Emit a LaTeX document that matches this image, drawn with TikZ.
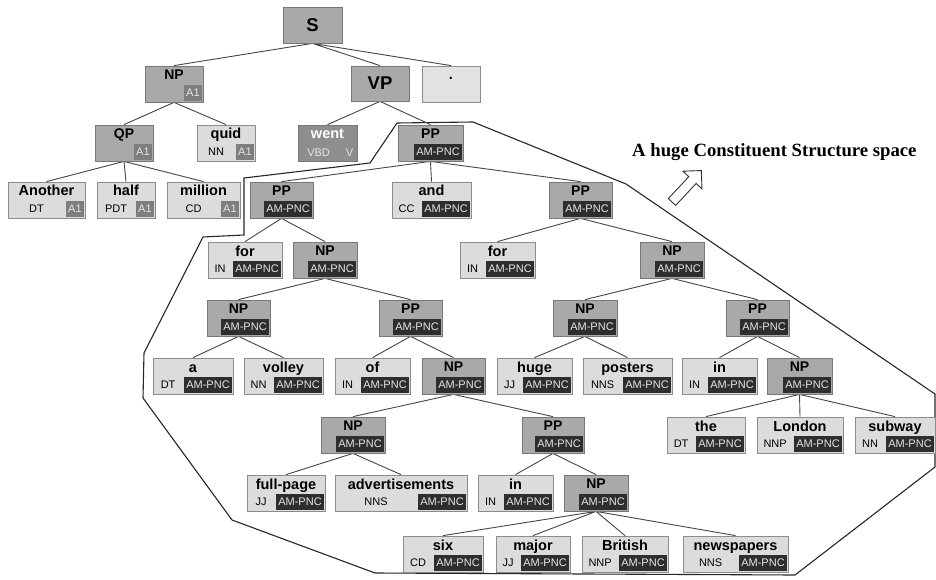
\documentclass[tikz,border=0pt]{standalone}
\usepackage{fontspec}
\setsansfont{Liberation Sans}
\newfontfamily\captionserif{Liberation Serif}
\usepackage{xcolor}
\usepackage{tikz}
\usetikzlibrary{calc,backgrounds}
\definecolor{leaffill}{HTML}{DCDCDC}
\definecolor{leafline}{HTML}{8C8C8C}
\definecolor{phrasefill}{HTML}{A9A9A9}
\definecolor{phraseline}{HTML}{787878}
\definecolor{tagdark}{HTML}{2E2E2E}
\definecolor{tagtext}{HTML}{E6E6E6}
\definecolor{argfill}{HTML}{7E7E7E}
\definecolor{wentfill}{HTML}{8E8E8E}
\definecolor{edgecol}{HTML}{454545}
\definecolor{dotfill}{HTML}{E2E2E2}
% word box: [tag style]{name}{left}{right}{top}{word}{pos}{role}
\newcommand{\leafnode}[8][roletag]{%
  \node[leafbox,minimum width={#4-#3}] (#2) at ({(#3+#4)/2},{#5+18}) {#6};
  \node[#1,anchor=south east] (#2-r) at ([shift={(-1,-1)}]#2.south east) {#8};
  \node[postag,anchor=base] (#2-p) at ($(#2.west |- #2-r.base)!.5!(#2-r.base west)$) {#7};}
% constituent box: [tag style]{name}{left}{right}{top}{label}{role}
\newcommand{\phrasenode}[7][roletag]{%
  \node[phrasebox,minimum width={#4-#3}] (#2) at ({(#3+#4)/2},{#5+18}) {#6};
  \node[#1,anchor=south east] (#2-r) at ([shift={(-1,-1)}]#2.south east) {#7};}

\begin{document}
\begin{tikzpicture}[x=1pt,y=-1pt,
    leafbox/.style={draw=leafline,fill=leaffill,line width=0.8pt,minimum height=36pt,
                    inner xsep=1pt,inner ysep=0pt,text height=14pt,text depth=22pt,
                    font=\sffamily\bfseries\fontsize{14.5}{14.5}\selectfont},
    phrasebox/.style={leafbox,draw=phraseline,fill=phrasefill,text height=13.5pt,text depth=22.5pt,
                    font=\sffamily\bfseries\fontsize{14}{14}\selectfont},
    topbox/.style={draw=phraseline,fill=phrasefill,line width=0.8pt,inner sep=0pt,
                   font=\sffamily\bfseries\fontsize{18.5}{18.5}\selectfont},
    roletag/.style={fill=tagdark,text=tagtext,inner xsep=2.5pt,inner ysep=0pt,minimum height=16pt,
                    font=\sffamily\fontsize{11}{11}\selectfont},
    argtag/.style={roletag,fill=argfill},
    postag/.style={inner sep=0pt,font=\sffamily\fontsize{11}{11}\selectfont},
    edge/.style={draw=edgecol,line width=0.9pt},
    hull/.style={draw=black!85,line width=1.1pt,line join=miter}
  ]
  \useasboundingbox (0,0) rectangle (936,580);

  % Sentence level
  \node[topbox,minimum width=59pt,minimum height=36pt] (s) at (312.5,25) {S};
  \phrasenode[argtag]{np0}{145}{203}{66}{NP}{A1}
  \node[topbox,minimum width=58pt,minimum height=35pt] (vp) at (380,83.5) {VP};
  \node[leafbox,fill=dotfill,minimum width=58pt] (dot) at (451,84) {.};

  % Subject NP
  \phrasenode[argtag]{qp}{95}{153}{125}{QP}{A1}
  \leafnode[argtag]{quid}{197}{255}{125}{quid}{NN}{A1}
  \leafnode[argtag]{another}{8}{85}{182}{Another}{DT}{A1}
  \leafnode[argtag]{half}{97}{155}{182}{half}{PDT}{A1}
  \leafnode[argtag]{million}{167}{240}{182}{million}{CD}{A1}

  % Verb and purpose PP
  \node[leafbox,draw=wentfill!85!black,fill=wentfill,text=white,minimum width=59pt] (went) at (327.5,143) {went};
  \node[postag,text=tagtext,anchor=base] (went-p) at ($(went.south west)+(21,-5)$) {VBD};
  \node[postag,text=tagtext,anchor=base east] (went-r) at ($(went.south east)+(-4,-5)$) {V};
  \phrasenode{pp1}{398}{463}{125}{PP}{AM-PNC}
  \phrasenode{pp2}{250}{313}{182}{PP}{AM-PNC}
  \leafnode{and}{392}{471}{182}{and}{CC}{AM-PNC}
  \phrasenode{pp3}{549}{612}{182}{PP}{AM-PNC}

  % for a volley of ... advertisements in six major British newspapers
  \leafnode{for1}{208}{282}{242}{for}{IN}{AM-PNC}
  \phrasenode{np1}{293}{357}{242}{NP}{AM-PNC}
  \phrasenode{np3}{207}{270}{300}{NP}{AM-PNC}
  \phrasenode{pp4}{379}{442}{300}{PP}{AM-PNC}
  \leafnode{a}{153}{233}{358}{a}{DT}{AM-PNC}
  \leafnode{volley}{244}{323}{358}{volley}{NN}{AM-PNC}
  \leafnode{of}{335}{410}{358}{of}{IN}{AM-PNC}
  \phrasenode{np5}{422}{485}{358}{NP}{AM-PNC}
  \phrasenode{np7}{321}{385}{417}{NP}{AM-PNC}
  \phrasenode{pp6}{522}{584}{417}{PP}{AM-PNC}
  \leafnode{fullpage}{247}{325}{475}{full-page}{JJ}{AM-PNC}
  \leafnode{advert}{335}{467}{475}{advertisements}{NNS}{AM-PNC}
  \leafnode{in2}{478}{553}{475}{in}{IN}{AM-PNC}
  \phrasenode{np8}{564}{628}{475}{NP}{AM-PNC}
  \leafnode{six}{403}{483}{536}{six}{CD}{AM-PNC}
  \leafnode{major}{496}{570}{536}{major}{JJ}{AM-PNC}
  \leafnode{british}{582}{668}{536}{British}{NNP}{AM-PNC}
  \leafnode{papers}{683}{788}{536}{newspapers}{NNS}{AM-PNC}

  % for huge posters in the London subway
  \leafnode{for2}{460}{535}{242}{for}{IN}{AM-PNC}
  \phrasenode{np2}{640}{704}{242}{NP}{AM-PNC}
  \phrasenode{np4}{553}{617}{300}{NP}{AM-PNC}
  \phrasenode{pp5}{726}{789}{300}{PP}{AM-PNC}
  \leafnode{huge}{497}{572}{358}{huge}{JJ}{AM-PNC}
  \leafnode{posters}{583}{672}{358}{posters}{NNS}{AM-PNC}
  \leafnode{in1}{682}{757}{358}{in}{IN}{AM-PNC}
  \phrasenode{np6}{767}{832}{358}{NP}{AM-PNC}
  \leafnode{the}{667}{745}{417}{the}{DT}{AM-PNC}
  \leafnode{london}{757}{843}{417}{London}{NNP}{AM-PNC}
  \leafnode{subway}{855}{935}{417}{subway}{NN}{AM-PNC}

  % Caption and hollow arrow
  \node[font=\captionserif\bfseries\fontsize{18.7}{18.7}\selectfont,anchor=base west,inner sep=0pt] (caption) at (632,157) {A huge Constituent Structure space};
  \draw[draw=black!80,fill=white,line width=0.9pt,line join=miter,shift={(672,202)},rotate=47]
    (0,-5) -- (30,-5) -- (30,-13) -- (43,0) -- (30,13) -- (30,5) -- (0,5) -- cycle;

  \begin{scope}[on background layer]
    \draw[hull] (203,237) -- (144,353) -- (143,398) -- (232,520) -- (375,573) -- (795,575)
      -- (935,467) -- (935,394) -- (626,184) -- (473,122) -- (397,123) -- (370,163)
      -- (244,178) -- (244,235) -- cycle;
    \draw[edge] (s.south) -- (np0.north) (s.south) -- (vp.north) (s.south) -- (dot.north);
    \draw[edge] (np0.south) -- (qp.north) (np0.south) -- (quid.north);
    \draw[edge] (qp.south) -- (another.north) (qp.south) -- (half.north) (qp.south) -- (million.north);
    \draw[edge] (vp.south) -- (went.north) (vp.south) -- (pp1.north);
    \draw[edge] (pp1.south) -- (pp2.north) (pp1.south) -- (and.north) (pp1.south) -- (pp3.north);
    \draw[edge] (pp2.south) -- (for1.north) (pp2.south) -- (np1.north);
    \draw[edge] (np1.south) -- (np3.north) (np1.south) -- (pp4.north);
    \draw[edge] (np3.south) -- (a.north) (np3.south) -- (volley.north);
    \draw[edge] (pp4.south) -- (of.north) (pp4.south) -- (np5.north);
    \draw[edge] (np5.south) -- (np7.north) (np5.south) -- (pp6.north);
    \draw[edge] (np7.south) -- (fullpage.north) (np7.south) -- (advert.north);
    \draw[edge] (pp6.south) -- (in2.north) (pp6.south) -- (np8.north);
    \draw[edge] (np8.south) -- (six.north) (np8.south) -- (major.north)
      (np8.south) -- (british.north) (np8.south) -- (papers.north);
    \draw[edge] (pp3.south) -- (for2.north) (pp3.south) -- (np2.north);
    \draw[edge] (np2.south) -- (np4.north) (np2.south) -- (pp5.north);
    \draw[edge] (np4.south) -- (huge.north) (np4.south) -- (posters.north);
    \draw[edge] (pp5.south) -- (in1.north) (pp5.south) -- (np6.north);
    \draw[edge] (np6.south) -- (the.north) (np6.south) -- (london.north) (np6.south) -- (subway.north);
  \end{scope}
\end{tikzpicture}
\end{document}
